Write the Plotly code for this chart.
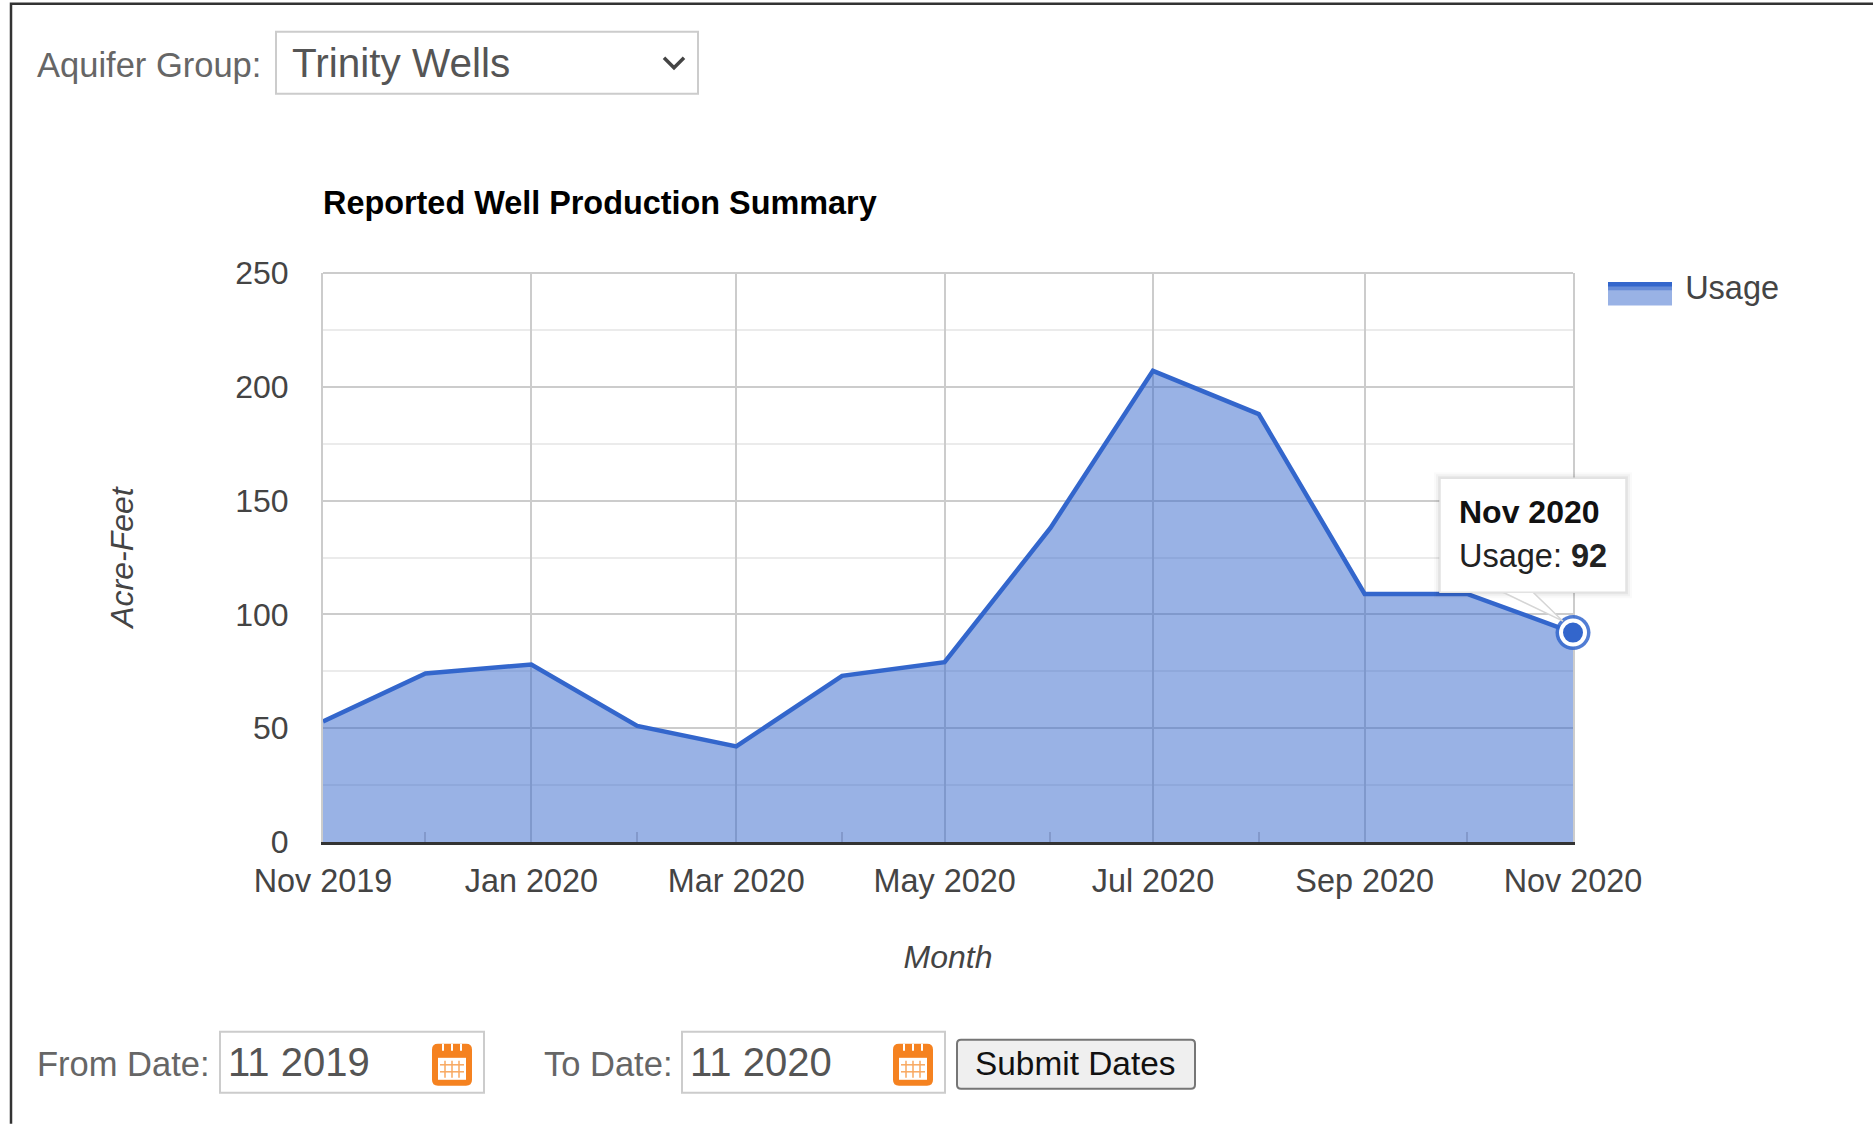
import plotly.graph_objects as go

months = ["2019-11-01", "2019-12-01", "2020-01-01", "2020-02-01", "2020-03-01", "2020-04-01", "2020-05-01",
          "2020-06-01", "2020-07-01", "2020-08-01", "2020-09-01", "2020-10-01", "2020-11-01"]
usage = [53, 74, 78, 51, 42, 73, 79, 138, 207, 188, 109, 109, 92]

W, H = 1873, 1124
L, R, T, B = 323, 1573, 272.5, 842


def px(x):
    return (x - L) / (R - L)


def py(y):
    return (B - y) / (B - T)


FONT = "Liberation Sans, Arial, sans-serif"
BLUE = "#3366cc"
shapes = []
annotations = []


def rect(x0, y0, x1, y1, fill="rgba(0,0,0,0)", line="#cccccc", width=2):
    shapes.append(dict(type="rect", xref="paper", yref="paper", x0=px(x0), x1=px(x1), y0=py(y1), y1=py(y0),
                       fillcolor=fill, line=dict(color=line, width=width), layer="above"))


def rrect(x0, y0, x1, y1, r, fill, line, width=2):
    def p(a, b):
        return f"{px(a):.5f},{py(b):.5f}"
    d = (f"M {p(x0 + r, y0)} L {p(x1 - r, y0)} Q {p(x1, y0)} {p(x1, y0 + r)} L {p(x1, y1 - r)} "
         f"Q {p(x1, y1)} {p(x1 - r, y1)} L {p(x0 + r, y1)} Q {p(x0, y1)} {p(x0, y1 - r)} "
         f"L {p(x0, y0 + r)} Q {p(x0, y0)} {p(x0 + r, y0)} Z")
    shapes.append(dict(type="path", xref="paper", yref="paper", path=d, fillcolor=fill,
                       line=dict(color=line, width=width), layer="above"))


def poly(points, fill=None, line="#444444", width=2, close=False):
    d = "M " + " L ".join(f"{px(a):.5f},{py(b):.5f}" for a, b in points) + (" Z" if close else "")
    shapes.append(dict(type="path", xref="paper", yref="paper", path=d, fillcolor=fill or "rgba(0,0,0,0)",
                       line=dict(color=line, width=width), layer="above"))


def text(x, y, s, size=34.5, color="#666666", anchor="left", bold=False):
    annotations.append(dict(xref="paper", yref="paper", x=px(x), y=py(y), text=f"<b>{s}</b>" if bold else s,
                            showarrow=False, xanchor=anchor, yanchor="middle",
                            font=dict(family=FONT, size=size, color=color)))


def calendar(x0, y0):
    o = "#f58220"
    rrect(x0, y0, x0 + 38, y0 + 40, 5, o, o, 2)
    rect(x0 + 5, y0 + 13, x0 + 33, y0 + 35, fill="#ffffff", line="#ffffff", width=0)
    for k in (1, 2, 3):
        poly([(x0 + 5 + 7 * k, y0 + 16), (x0 + 5 + 7 * k, y0 + 33)], line="#f8a860", width=1.5)
    for k in (1, 2):
        poly([(x0 + 7, y0 + 13 + 7 * k), (x0 + 31, y0 + 13 + 7 * k)], line="#f8a860", width=1.5)
    for k in (1, 2, 3):
        poly([(x0 + 1 + 9 * k, y0 - 1), (x0 + 1 + 9 * k, y0 + 6)], line="#ffffff", width=2)


# page frame
poly([(11, 1124), (11, 3), (1873, 3)], line="#333333", width=2.5)

# aquifer selector
text(35, 64, "Aquifer Group:")
rect(276, 31, 698, 93)
text(290, 62, "Trinity Wells", size=40.5, color="#555555")
poly([(664, 57), (674, 67), (684, 57)], line="#444444", width=3.5)

# date controls
text(35, 1064, "From Date:")
rect(220, 1032, 484, 1093)
text(226, 1062, "11 2019", size=40, color="#555555")
calendar(433, 1045)
text(542, 1064, "To Date:")
rect(682, 1032, 945, 1093)
text(688, 1062, "11 2020", size=40, color="#555555")
calendar(894, 1045)
rrect(957, 1040, 1195, 1089, 4, "#efefef", "#767676", 2)
text(1075, 1064, "Submit Dates", size=33.4, color="#111111", anchor="center")

# plot top border
poly([(L, T), (R, T)], line="#cccccc", width=2)

# legend swatch fill
rect(1608, 285, 1672, 305, fill="rgba(51,102,204,0.5)", line="rgba(0,0,0,0)", width=0)

# tooltip
for off, alpha in ((6, 0.02), (4, 0.03), (2, 0.05)):
    rect(1440 - off, 478 - off, 1626 + off, 592 + off, fill=f"rgba(0,0,0,{alpha})", line="rgba(0,0,0,0)", width=0)
poly([(1503, 592), (1563, 621), (1533, 592)], fill="rgba(255,255,255,0.9)", line="#d5d5d5", width=1.5, close=True)
rect(1440, 478, 1626, 592, fill="#ffffff", line="#e2e2e2", width=1.5)
text(1457, 512, "Nov 2020", size=32, color="#111111", bold=True)
annotations.append(dict(xref="paper", yref="paper", x=px(1457), y=py(556), text="Usage: <b>92</b>", showarrow=False,
                        xanchor="left", yanchor="middle", font=dict(family=FONT, size=32.5, color="#222222")))

fig = go.Figure()
fig.add_trace(go.Scatter(x=months, y=usage, name="\u2005Usage", mode="lines", fill="tozeroy",
                         fillcolor="rgba(51,102,204,0.5)", line=dict(color=BLUE, width=4.5)))
fig.add_trace(go.Scatter(x=months[-1:], y=usage[-1:], mode="markers", showlegend=False, cliponaxis=False,
                         marker=dict(size=35, color=BLUE, opacity=0.85)))
fig.add_trace(go.Scatter(x=months[-1:], y=usage[-1:], mode="markers", showlegend=False, cliponaxis=False,
                         marker=dict(size=24, color=BLUE, line=dict(color="#ffffff", width=4))))

fig.update_layout(
    width=W, height=H, autosize=False, paper_bgcolor="#ffffff", plot_bgcolor="#ffffff",
    margin=dict(l=L, r=W - R, t=T, b=H - B, pad=0, autoexpand=False),
    font=dict(family=FONT, size=32, color="#444444"),
    title=dict(text="<b>Reported Well Production Summary</b>", xref="paper", x=0, xanchor="left",
               yref="container", y=1 - 203 / H, yanchor="middle", font=dict(size=32.4, color="#000000")),
    legend=dict(x=px(1603), xanchor="left", y=py(258), yanchor="top", itemwidth=64, bgcolor="rgba(0,0,0,0)",
                font=dict(size=32.5, color="#444444"), itemclick=False, itemdoubleclick=False),
    shapes=shapes, annotations=annotations, hovermode=False,
)
fig.update_xaxes(
    type="date", range=[months[0], months[-1]], tick0=months[0], dtick="M2", tickformat="%b %Y",
    showgrid=True, gridcolor="#cccccc", gridwidth=2, ticks="", ticklabelstandoff=8, showline=True,
    linecolor="#333333", linewidth=2.5, zeroline=False,
    minor=dict(tick0=months[0], dtick="M1", ticks="inside", ticklen=10, tickcolor="#8399cb", tickwidth=1.5, showgrid=False),
    title=dict(text="<i>Month</i>", standoff=48, font=dict(size=32, color="#444444")),
    tickfont=dict(size=32.4, color="#444444"),
)
fig.update_yaxes(
    range=[0, 250], tick0=0, dtick=50, showgrid=True, gridcolor="#cccccc", gridwidth=2, ticks="",
    ticklabelstandoff=26, showline=True, mirror=True, linecolor="#cccccc", linewidth=2, zeroline=False,
    layer="below traces",
    minor=dict(tick0=0, dtick=25, showgrid=True, gridcolor="#ebebeb", gridwidth=2),
    title=dict(text="<i>Acre-Feet</i>", standoff=92, font=dict(size=32, color="#444444")),
    tickfont=dict(size=32, color="#444444"),
)

fig.write_html("out.html", config={"displayModeBar": False},
               post_script="document.body.style.margin='0';document.body.style.overflow='hidden';")
